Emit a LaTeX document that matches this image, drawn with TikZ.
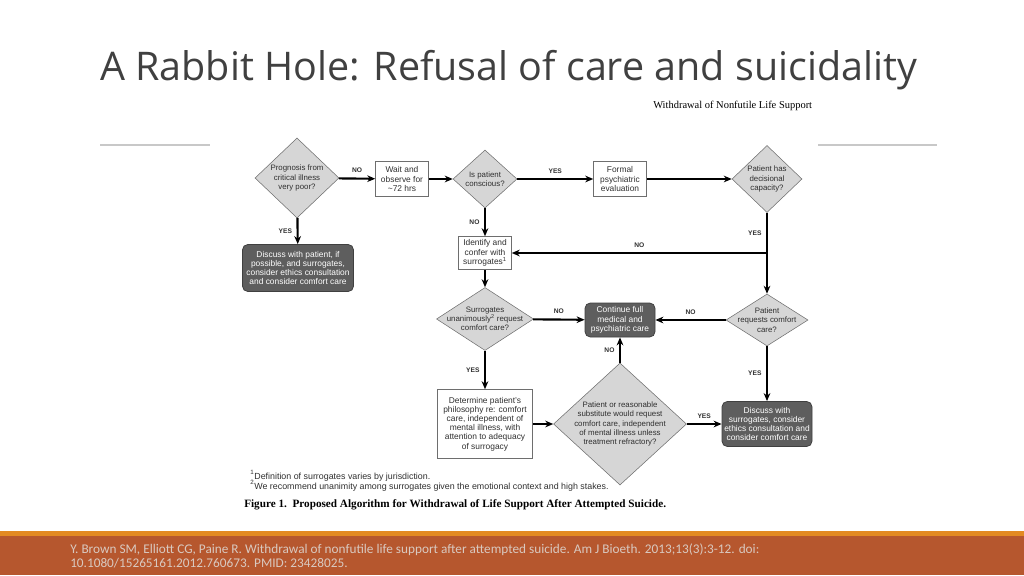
\documentclass[tikz,border=0pt]{standalone}
\usepackage{fontspec}
\setmainfont{Liberation Sans}
\newfontfamily\titlefont{Open Sans}
\newfontfamily\paperfont{Liberation Serif}
\newfontfamily\bandfont{Carlito}
\usetikzlibrary{shapes.geometric,arrows.meta}
\definecolor{titlegray}{HTML}{404040}
\definecolor{rulegray}{HTML}{C8C8C8}
\definecolor{qfill}{HTML}{D6D6D6}
\definecolor{qedge}{HTML}{6E6E6E}
\definecolor{darkfill}{HTML}{5E5E5E}
\definecolor{flowtext}{HTML}{303030}
\definecolor{stripe}{HTML}{E38A22}
\definecolor{band}{HTML}{B6572E}
\definecolor{bandtext}{HTML}{D9C9C0}
\newcommand{\flowfont}{\fontsize{6.3}{6.9}\selectfont}
\newcommand{\askfont}{\fontsize{5.9}{6.9}\selectfont}
\tikzset{
  question/.style={diamond,draw=qedge,fill=qfill,inner sep=-8pt,align=center,font=\askfont,text=flowtext},
  action/.style={rectangle,draw=qedge,fill=white,inner sep=0.5pt,align=center,font=\flowfont,text=flowtext},
  outcome/.style={rectangle,rounded corners=4pt,draw=black!75,line width=0.6pt,fill=darkfill,inner sep=0.5pt,align=center,font=\flowfont,text=white},
  arr/.style={line width=1.6pt,-{Stealth[length=6pt,width=5pt]}},
  yesno/.style={font=\bfseries\fontsize{5}{6}\selectfont,text=flowtext},
}
\begin{document}
\begin{tikzpicture}[x=0.75pt,y=-0.75pt]
  \useasboundingbox (0,0) rectangle (1024,575);
  \fill[white] (0,0) rectangle (1024,575);
  % slide title and rules
  \node[anchor=base west,inner sep=0pt,font=\titlefont\fontsize{29.6}{34}\selectfont,text=titlegray] (title) at (100,80) {A Rabbit Hole: Refusal of care and suicidality};
  \draw[rulegray,line width=1pt] (100,145) -- (210,145);
  \draw[rulegray,line width=1pt] (818,145) -- (937,145);
  \node[anchor=base west,inner sep=0pt,font=\paperfont\fontsize{7.85}{9}\selectfont] (header) at (653,108) {Withdrawal of Nonfutile Life Support};
  % flowchart
  \node[question,minimum width=63pt,minimum height=60pt] (prog) at (297,178) {Prognosis from\\critical illness\\very poor?};
  \node[action,minimum width=39.75pt,minimum height=26.25pt] (wait) at (402,179) {Wait and\\observe for\\\textasciitilde72 hrs};
  \node[question,minimum width=48pt,minimum height=43.5pt] (consc) at (485,179) {Is patient\\conscious?};
  \node[action,minimum width=39.75pt,minimum height=26.25pt] (formal) at (620,179) {Formal\\psychiatric\\evaluation};
  \node[question,minimum width=52.5pt,minimum height=50.25pt] (capac) at (767,179) {Patient has\\decisional\\capacity?};
  \node[outcome,minimum width=83.25pt,minimum height=35.25pt] (discpat) at (298,268) {Discuss with patient, if\\possible, and surrogates,\\consider ethics consultation\\and consider comfort care};
  \node[action,minimum width=39.75pt,minimum height=24.75pt] (ident) at (485,253) {Identify and\\confer with\\surrogates\textsuperscript{1}};
  \node[question,minimum width=72.75pt,minimum height=47.25pt] (surr) at (485,319) {Surrogates\\unanimously\textsuperscript{2} request\\comfort care?};
  \node[outcome,minimum width=52.5pt,minimum height=25.5pt] (cont) at (620,320) {Continue full\\medical and\\psychiatric care};
  \node[question,minimum width=61.5pt,minimum height=39pt] (reqs) at (767,320) {Patient\\requests comfort\\care?};
  \node[action,minimum width=71.25pt,minimum height=51.75pt] (determ) at (485,424) {Determine patient's\\philosophy re: comfort\\care, independent of\\mental illness, with\\attention to adequacy\\of surrogacy};
  \node[question,minimum width=99.75pt,minimum height=91.5pt] (subst) at (620,424) {Patient or reasonable\\substitute would request\\comfort care, independent\\of mental illness unless\\treatment refractory?};
  \node[outcome,minimum width=67.5pt,minimum height=33.75pt] (discsur) at (767,424) {Discuss with\\surrogates, consider\\ethics consultation and\\consider comfort care};
  \coordinate (split) at (767,253);
  \draw[arr] (prog) -- node[yesno,above]{NO} (wait);
  \draw[arr] (prog) -- node[yesno,left]{YES} (discpat);
  \draw[arr] (wait) -- (consc);
  \draw[arr] (consc) -- node[yesno,above]{YES} (formal);
  \draw[arr] (formal) -- (capac);
  \draw[arr] (consc) -- node[yesno,left]{NO} (ident);
  \draw[line width=1.6pt] (capac) -- node[yesno,left]{YES} (split);
  \draw[arr] (split) -- (reqs);
  \draw[arr] (split) -- node[yesno,above]{NO} (ident);
  \draw[arr] (ident) -- (surr);
  \draw[arr] (surr) -- node[yesno,above]{NO} (cont);
  \draw[arr] (reqs) -- node[yesno,above]{NO} (cont);
  \draw[arr] (surr) -- node[yesno,left]{YES} (determ);
  \draw[arr] (reqs) -- node[yesno,left]{YES} (discsur);
  \draw[arr] (determ) -- (subst);
  \draw[arr] (subst) -- node[yesno,left]{NO} (cont);
  \draw[arr] (subst) -- node[yesno,above]{YES} (discsur);
  % footnotes and caption
  \node[anchor=base west,inner sep=0pt,font=\fontsize{6.65}{7}\selectfont,text=flowtext] (note1) at (250,479) {\textsuperscript{1}Definition of surrogates varies by jurisdiction.};
  \node[anchor=base west,inner sep=0pt,font=\fontsize{6.65}{7}\selectfont,text=flowtext] (note2) at (250,489) {\textsuperscript{2}We recommend unanimity among surrogates given the emotional context and high stakes.};
  \node[anchor=base west,inner sep=0pt,font=\paperfont\bfseries\fontsize{8.4}{10}\selectfont] (caption) at (244,507) {Figure 1.\ \ Proposed Algorithm for Withdrawal of Life Support After Attempted Suicide.};
  % reference band
  \fill[stripe] (0,531) rectangle (1024,536);
  \fill[band] (0,536) rectangle (1024,575);
  \node[anchor=base west,inner sep=0pt,font=\bandfont\fontsize{9.95}{11}\selectfont,text=bandtext] (ref1) at (70,553) {Y. Brown SM, Elliott CG, Paine R. Withdrawal of nonfutile life support after attempted suicide. Am J Bioeth. 2013;13(3):3-12. doi:};
  \node[anchor=base west,inner sep=0pt,font=\bandfont\fontsize{9.95}{11}\selectfont,text=bandtext] (ref2) at (70,567) {10.1080/15265161.2012.760673. PMID: 23428025.};
\end{tikzpicture}
\end{document}
